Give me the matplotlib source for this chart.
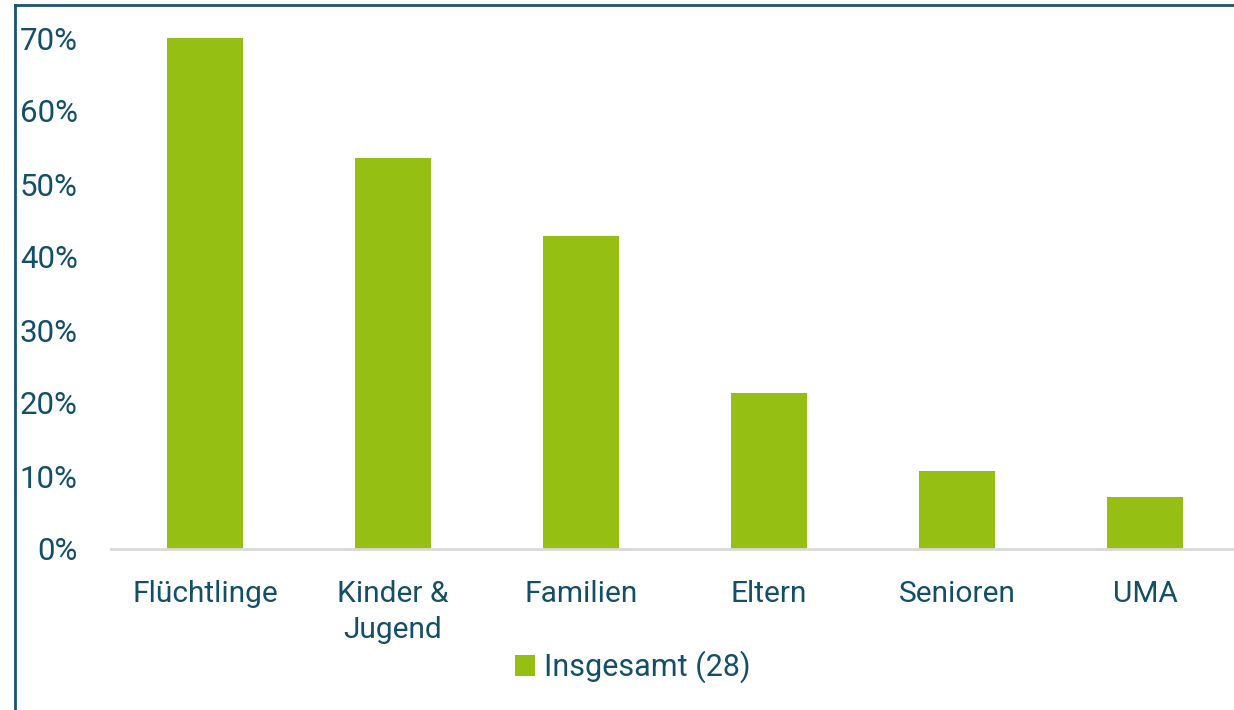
import matplotlib.pyplot as plt
from matplotlib.lines import Line2D
from matplotlib.patches import Patch

plt.rcParams['font.family'] = ['Roboto', 'DejaVu Sans']

categories = ['Flüchtlinge', 'Kinder &\nJugend', 'Familien', 'Eltern', 'Senioren', 'UMA']
values = [70.0, 53.6, 42.9, 21.4, 10.7, 7.1]
yticks = [0, 10, 20, 30, 40, 50, 60, 70]
legend_label = 'Insgesamt (28)'

green = '#95bf12'
teal = '#134f69'

fig = plt.figure(figsize=(12.34, 7.10), dpi=100)
ax = fig.add_axes([111 / 1234, 161 / 710, 1128 / 1234, 511 / 710])

ax.bar(range(len(categories)), values, width=0.4, color=green, zorder=2)
ax.set_xlim(-0.5, len(categories) - 0.5)
ax.set_ylim(0, 70)
ax.set_yticks(yticks)
ax.set_yticklabels([f'{t}%' for t in yticks])
ax.set_xticks(range(len(categories)))
ax.set_xticklabels(categories, linespacing=1.4)

for s in ['top', 'right', 'left']:
    ax.spines[s].set_visible(False)
ax.spines['bottom'].set_color('#d9d9d9')
ax.spines['bottom'].set_linewidth(2)
ax.tick_params(axis='x', length=0, pad=22, labelsize=21.5, labelcolor=teal)
ax.tick_params(axis='y', length=0, pad=24, labelsize=22.5, labelcolor=teal)
for lab in ax.get_yticklabels():
    lab.set_va('center_baseline')

handles = [Patch(facecolor=green, edgecolor='none')]
fig.legend(handles, [legend_label], loc='center', bbox_to_anchor=(633 / 1234, 1 - 667 / 710),
           frameon=False, fontsize=22, labelcolor=teal, handlelength=0.65, handleheight=0.65,
           handletextpad=0.3)

# frame lines (left and top)
fig.add_artist(Line2D([14.5 / 1234, 14.5 / 1234], [0, 1 - 4.5 / 710], color='#1a5570', lw=2,
                      transform=fig.transFigure))
fig.add_artist(Line2D([14.5 / 1234, 1], [1 - 4.5 / 710, 1 - 4.5 / 710], color='#1a5570', lw=2,
                      transform=fig.transFigure))

fig.savefig('out.png', dpi=100)
